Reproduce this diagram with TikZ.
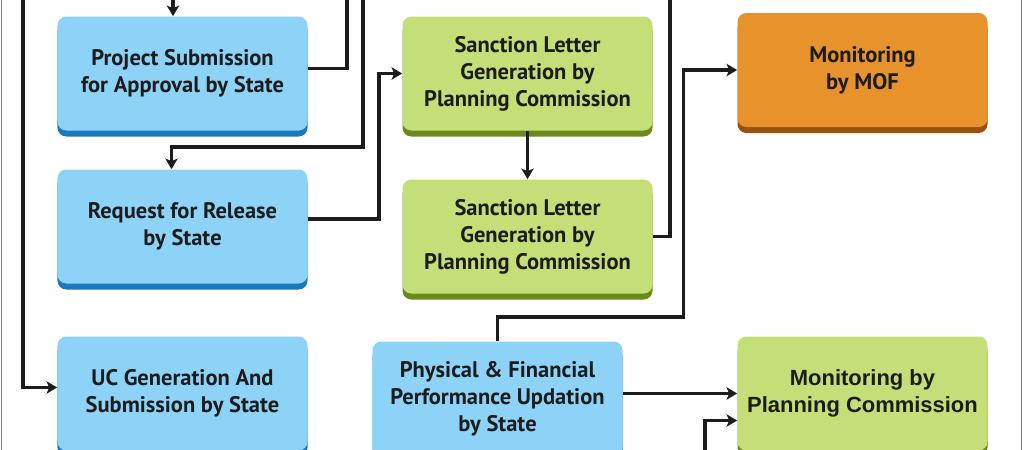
\documentclass[tikz,border=0pt]{standalone}
\usepackage{fontspec}
\setsansfont{PT Sans}
\newfontfamily\arialfont{Liberation Sans}
\usepackage{tikz}
\usetikzlibrary{
    positioning,
    arrows.meta,
    shadows
}
\definecolor{skyfill}{HTML}{8DD3F8}
\definecolor{skyedge}{HTML}{1B78BD}
\definecolor{limefill}{HTML}{C4DE78}
\definecolor{limeedge}{HTML}{6A8A1C}
\definecolor{amberfill}{HTML}{E8922B}
\definecolor{amberedge}{HTML}{97520F}
\definecolor{inkline}{HTML}{1C1C1C}
\tikzset{
    >={Stealth[length=6pt,width=7pt,inset=1.5pt]},
    box/.style={
        rectangle,
        rounded corners=5pt,
        minimum width=5cm,
        minimum height=2.28cm,
        align=center,
        text=inkline,
        font=\sffamily\bfseries\fontsize{12.8}{15.4}\selectfont
    },
    bluebox/.style={
        box,
        fill=skyfill,
        drop shadow={shadow xshift=0pt, shadow yshift=-0.12cm, fill=skyedge, opacity=1}
    },
    greenbox/.style={
        box,
        fill=limefill,
        drop shadow={shadow xshift=0pt, shadow yshift=-0.12cm, fill=limeedge, opacity=1}
    },
    orangebox/.style={
        box,
        fill=amberfill,
        drop shadow={shadow xshift=0pt, shadow yshift=-0.12cm, fill=amberedge, opacity=1}
    },
    pcbox/.style={
        greenbox,
        font=\arialfont\bfseries\fontsize{12.5}{15.4}\selectfont
    },
    flow/.style={
        ->,
        draw=inkline,
        line width=2.2pt
    }
}

\begin{document}
\begin{tikzpicture}[
    node distance=3cm,
    on grid
]
    \useasboundingbox (0,0) rectangle (20.48,-9);

    % Marco
    \draw[gray, line width=0.8pt] (0.03,0) -- (0.03,-9);
    \draw[gray, line width=0.8pt] (20.43,0) -- (20.43,-9);

    % Nodos
    \node[bluebox] (submit) at (3.65,-1.47) {Project Submission\\for Approval by State};
    \node[bluebox] (release) [below=3.06cm of submit] {Request for Release\\by State};
    \node[bluebox] (uc) [below=3.34cm of release] {UC Generation And\\Submission by State};
    \node[greenbox] (sanctionA) [right=6.9cm of submit] {Sanction Letter\\Generation by\\Planning Commission};
    \node[greenbox] (sanctionB) [below=3.26cm of sanctionA] {Sanction Letter\\Generation by\\Planning Commission};
    \node[bluebox] (update) [below right=0.1cm and 6.3cm of uc] {Physical \& Financial\\Performance Updation\\by State};
    \node[orangebox] (mof) [above right=0.07cm and 6.7cm of sanctionA] {Monitoring\\by MOF};
    \node[pcbox] (pc) [below=6.47cm of mof] {Monitoring by\\Planning Commission};

    % Extremos sueltos
    \coordinate (inA) at (3.46,0);
    \coordinate (outA) at (6.94,0);
    \coordinate (inB) at (7.26,0);
    \coordinate (outB) at (13.4,0);
    \coordinate (inC) at (0.46,0);
    \coordinate (inD) at (14.1,-9);

    % Conexiones
    \draw[flow] (inA) -- (inA |- submit.north);
    \draw[flow, -] ([yshift=0.1cm]submit.east) -| (outA);
    \draw[flow] (inB) -- ++(0,-2.94) -| ([xshift=-0.22cm]release.north);
    \draw[flow] ([yshift=0.15cm]release.east) -- ++(1.42,0) |- (sanctionA.west);
    \draw[flow] (sanctionA.south) -- (sanctionB.north);
    \draw[flow, -] (sanctionB.east) -| (outB);
    \draw[flow] (inC) |- ([yshift=0.12cm]uc.west);
    \draw[flow] (update.north) |- ++(3.72,0.48) |- (mof.west);
    \draw[flow] (update.east |- pc.west) -- (pc.west);
    \draw[flow] (inD) |- ([yshift=-0.54cm]pc.west);

\end{tikzpicture}
\end{document}
